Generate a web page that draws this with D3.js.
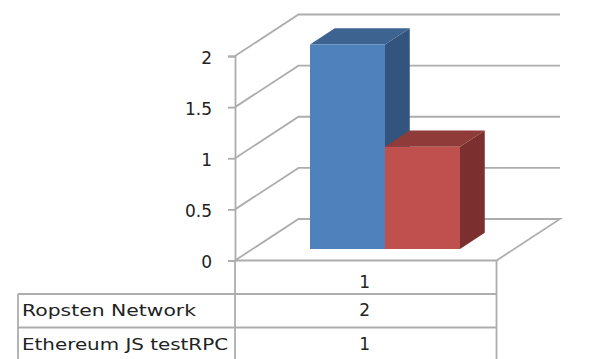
<!DOCTYPE html>
<html>
<head>
<meta charset="utf-8">
<script src="https://cdnjs.cloudflare.com/ajax/libs/d3/7.8.5/d3.min.js"></script>
<style>
  html, body { margin: 0; padding: 0; background: #fff; }
  svg { display: block; }
  text { font-family: "DejaVu Sans", sans-serif; fill: #222; }
</style>
</head>
<body>
<svg id="chart" width="595" height="359"></svg>
<script>
const categories = ["1"];
const seriesNames = ["Ropsten Network", "Ethereum JS testRPC"];
const seriesValues = [2, 1];
const tickValues = [0, 0.5, 1, 1.5, 2];
const seriesFront = ["#4f81bd", "#c0504d"];
const seriesTop = ["#3d6390", "#8f3b39"];
const seriesSide = ["#32547e", "#7b2f2e"];

const svg = d3.select("#chart");
const gridColor = "#adadad";
const strokeW = 1.8;

// Front face of the plot box
const x = d3.scaleLinear().domain([0, 1]).range([235, 496.5]);
const y = d3.scaleLinear().domain([0, 2]).range([260.5, 56]);

// Oblique projection: t = 0 at the front of the floor, t = 1 at the back wall
const depth = t => [63.5 * t, -41.5 * t];
const project = (px, py, t) => { const [dx, dy] = depth(t); return [px + dx, py + dy]; };
const line = d3.line();

// Gridlines run up the side wall and across the back wall
const gridG = svg.append("g").attr("fill", "none").attr("stroke", gridColor).attr("stroke-width", strokeW);
tickValues.forEach(v => {
  const pts = [[x(0), y(v)], project(x(0), y(v), 1), project(x(1), y(v), 1)];
  if (v === 0) pts.push([x(1), y(0)], [x(0), y(0)]);
  gridG.append("path").attr("d", line(pts));
});

// Value axis
const axis = d3.axisLeft(y)
  .tickValues(tickValues)
  .tickFormat(d => String(d))
  .tickSize(7)
  .tickPadding(16);
const axisG = svg.append("g").attr("transform", `translate(${x(0)},0)`).call(axis);
axisG.selectAll("path, line").attr("stroke", gridColor).attr("stroke-width", strokeW);
axisG.selectAll("text")
  .attr("font-size", 17)
  .style("font-family", '"DejaVu Sans", sans-serif')
  .attr("dy", "0.42em")
  .attr("fill", "#222");

// Bars stand between these two depth fractions on the floor
const barDepth = 0.39;
const band = d3.scaleBand().domain(d3.range(seriesValues.length))
  .range([x(0) + 75, x(0) + 225]);

function drawBar(i) {
  const left = band(i), right = left + band.bandwidth();
  const baseY = y(0) - 11.5;
  const topY = baseY - (y(0) - y(seriesValues[i]));
  const back = t => project(t[0], t[1], barDepth);
  const g = svg.append("g");
  g.append("path").attr("fill", seriesSide[i])
    .attr("d", line([[right, topY], back([right, topY]), back([right, baseY]), [right, baseY]]) + "Z");
  g.append("path").attr("fill", seriesTop[i])
    .attr("d", line([[left, topY], back([left, topY]), back([right, topY]), [right, topY]]) + "Z");
  g.append("rect").attr("fill", seriesFront[i])
    .attr("x", left).attr("y", topY)
    .attr("width", right - left).attr("height", baseY - topY);
}
seriesValues.forEach((_, i) => drawBar(i));

// Data table under the plot
const rowY = [260.5, 294, 327.5, 361];
const labelLeft = 18;
const table = svg.append("g").attr("stroke", gridColor).attr("stroke-width", strokeW);
table.append("line").attr("x1", x(0)).attr("x2", x(0)).attr("y1", rowY[0]).attr("y2", rowY[3]);
table.append("line").attr("x1", x(1)).attr("x2", x(1)).attr("y1", rowY[0]).attr("y2", rowY[3]);
table.append("line").attr("x1", labelLeft).attr("x2", labelLeft).attr("y1", rowY[1]).attr("y2", rowY[3]);
[rowY[1], rowY[2]].forEach(ry => {
  table.append("line").attr("x1", labelLeft).attr("x2", x(1)).attr("y1", ry).attr("y2", ry);
});

const cx = (x(0) + x(1)) / 2 - 1;
svg.append("text").attr("x", cx).attr("y", rowY[0] + 27)
  .attr("text-anchor", "middle").attr("font-size", 17).text(categories[0]);
seriesNames.forEach((name, i) => {
  const base = rowY[i + 1] + 22;
  svg.append("text").attr("x", labelLeft + 4).attr("y", base)
    .attr("font-size", 16).attr("textLength", i === 0 ? 174 : 206)
    .attr("lengthAdjust", "spacingAndGlyphs").text(name);
  svg.append("text").attr("x", cx).attr("y", base)
    .attr("text-anchor", "middle").attr("font-size", 17).text(String(seriesValues[i]));
});
</script>
</body>
</html>
